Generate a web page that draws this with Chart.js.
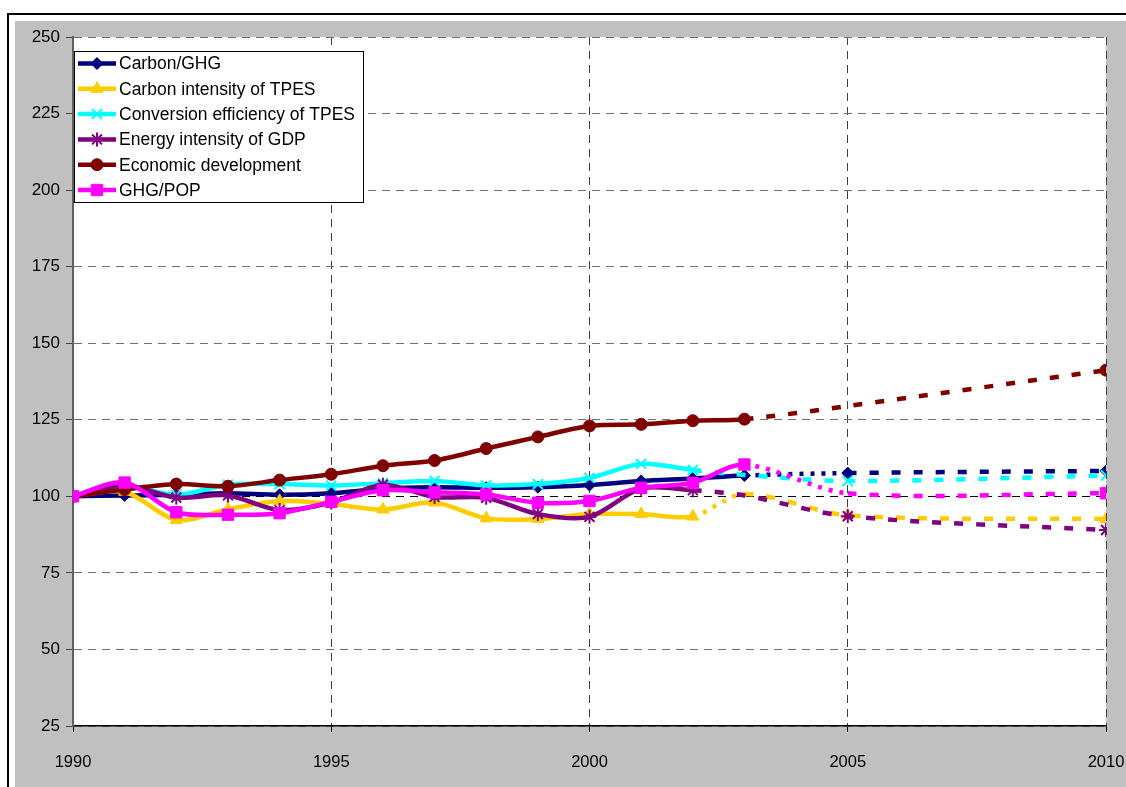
<!DOCTYPE html>
<html>
<head>
<meta charset="utf-8">
<title>GHG decomposition</title>
<script src="https://cdn.jsdelivr.net/npm/chart.js@4.4.0/dist/chart.umd.min.js"></script>
<style>
  html, body { margin: 0; padding: 0; background: #fff; }
  #chart { display: block; }
</style>
</head>
<body>
<canvas id="chart" width="1126" height="787"></canvas>
<script>
// --- Daten ---
const years = [1990, 1991, 1992, 1993, 1994, 1995, 1996, 1997, 1998, 1999, 2000, 2001, 2002, 2003, 2005, 2010];

const carbonGhg       = [100, 100.3, 100.5, 101, 100.5, 101, 102.5, 103, 102.8, 103, 103.7, 105, 105.8, 106.8, 107.6, 108.3];
const carbonIntensity = [100, 101.5, 92.3, 95.8, 98.5, 97.5, 95.7, 98, 92.8, 92.6, 94.2, 94.2, 93.4, 100.8, 93.8, 92.6];
const conversionEff   = [100, 103.5, 100.5, 103.8, 104, 103.5, 104.3, 105, 103.6, 104, 106, 110.6, 108.6, 107, 105, 106.8];
const energyIntensity = [100, 103.5, 99.6, 100.3, 95.5, 98, 103.8, 99.8, 99.5, 94.2, 93.3, 102.5, 102, 100.3, 93.5, 89];
const economicDev     = [100, 102.2, 104, 103.3, 105.3, 107.2, 110, 111.7, 115.6, 119.4, 123, 123.5, 124.7, 125.2, 129.5, 141.2];
const ghgPop          = [100, 104.5, 94.8, 94, 94.5, 98.2, 102, 101.3, 100.6, 97.9, 98.5, 102.8, 104.4, 110.4, 101, 101];

const seriesNames = ['Carbon/GHG', 'Carbon intensity of TPES', 'Conversion efficiency of TPES',
                     'Energy intensity of GDP', 'Economic development', 'GHG/POP'];
const yTicks = [25, 50, 75, 100, 125, 150, 175, 200, 225, 250];
const xTicks = [1990, 1995, 2000, 2005, 2010];

// --- Darstellung pro Serie ---
// solidEnd: letzter Index mit durchgezogener Linie, dotted: Übergangssegment gepunktet
const styles = [
    { color: '#000080', point: 'rectRot',  r: 6, solidEnd: 13, dotted: true,  mark2005: true },
    { color: '#FFCC00', point: 'triangle', r: 7, solidEnd: 12, dotted: true,  mark2005: true },
    { color: '#00FFFF', point: 'crossRot', r: 7, solidEnd: 12, dotted: false, mark2005: true },
    { color: '#800080', point: 'star',     r: 7, solidEnd: 12, dotted: false, mark2005: true },
    { color: '#800000', point: 'circle',   r: 6, solidEnd: 13, dotted: false, mark2005: false },
    { color: '#FF00FF', point: 'rect',     r: 8, solidEnd: 13, dotted: true,  mark2005: false }
];
const allValues = [carbonGhg, carbonIntensity, conversionEff, energyIntensity, economicDev, ghgPop];

function hasMarker(st, i) {
    if (i <= st.solidEnd) return true;
    if (years[i] === 2010) return true;
    if (years[i] === 2005) return st.mark2005;
    return false;
}

const datasets = allValues.map((vals, k) => {
    const st = styles[k];
    const stroked = st.point === 'crossRot' || st.point === 'star';
    return {
        label: seriesNames[k],
        data: vals.map((v, i) => ({ x: years[i], y: v })),
        borderColor: st.color,
        backgroundColor: st.color,
        borderWidth: 4.5,
        tension: 0.3,
        order: 6 - k,
        pointStyle: st.point,
        pointRadius: ctx => hasMarker(st, ctx.dataIndex) ? st.r : 0,
        pointHoverRadius: 0,
        pointBorderWidth: stroked ? 2 : 1,
        pointBorderColor: st.color,
        pointBackgroundColor: st.color,
        segment: {
            borderDash: ctx => {
                const i = ctx.p0DataIndex;
                if (i < st.solidEnd) return undefined;
                if (i === st.solidEnd && st.dotted) return [4, 7];
                return [9, 13];
            }
        }
    };
});

// Hintergrund: Rahmen, graue Fläche, weißer Plotbereich
const frame = {
    id: 'frame',
    beforeDraw(chart) {
        const { ctx, chartArea: a } = chart;
        ctx.save();
        ctx.fillStyle = '#fff';
        ctx.fillRect(0, 0, chart.width, chart.height);
        ctx.fillStyle = '#C0C0C0';
        ctx.fillRect(15, 21, chart.width - 15, chart.height - 21);
        ctx.strokeStyle = '#000';
        ctx.lineWidth = 2;
        ctx.beginPath();
        ctx.moveTo(8, chart.height);
        ctx.lineTo(8, 14);
        ctx.lineTo(chart.width, 14);
        ctx.stroke();
        ctx.fillStyle = '#fff';
        ctx.fillRect(a.left, a.top, a.right - a.left, a.bottom - a.top);
        ctx.restore();
    }
};

// Legende im Plotbereich, im Excel-Stil (Linie mit Marker)
const boxLegend = {
    id: 'boxLegend',
    afterDraw(chart) {
        const ctx = chart.ctx;
        const x0 = 74, y0 = 51, w = 289, h = 151;
        ctx.save();
        ctx.setLineDash([]);
        ctx.fillStyle = '#fff';
        ctx.fillRect(x0, y0, w, h);
        ctx.strokeStyle = '#000';
        ctx.lineWidth = 1;
        ctx.strokeRect(x0 + 0.5, y0 + 0.5, w, h);
        ctx.font = '17.5px "Liberation Sans", Arial, sans-serif';
        ctx.textBaseline = 'middle';
        chart.data.datasets.forEach((ds, k) => {
            const st = styles[k];
            const cy = y0 + 12.5 + k * 25.3;
            ctx.strokeStyle = st.color;
            ctx.lineWidth = 4.5;
            ctx.beginPath();
            ctx.moveTo(78, cy);
            ctx.lineTo(116, cy);
            ctx.stroke();
            ctx.fillStyle = st.color;
            const stroked = st.point === 'crossRot' || st.point === 'star';
            ctx.lineWidth = stroked ? 2 : 1;
            Chart.helpers.drawPoint(ctx, { pointStyle: st.point, radius: st.r, rotation: 0, borderWidth: ctx.lineWidth }, 97, cy);
            ctx.fillStyle = '#000';
            ctx.fillText(ds.label, 119, cy + 1);
        });
        ctx.restore();
    }
};

new Chart(document.getElementById('chart').getContext('2d'), {
    type: 'line',
    data: { datasets },
    plugins: [frame, boxLegend],
    options: {
        responsive: false,
        animation: false,
        events: [],
        layout: { padding: { top: 37, right: 0, left: 0, bottom: 0 } },
        plugins: { legend: { display: false }, tooltip: { enabled: false } },
        scales: {
            x: {
                type: 'linear',
                min: xTicks[0],
                max: xTicks[xTicks.length - 1],
                afterBuildTicks: s => { s.ticks = xTicks.map(v => ({ value: v })); },
                afterFit: s => { s.height = 61; s.paddingLeft = 0; s.paddingRight = 20; },
                ticks: {
                    callback: v => String(v),
                    color: '#000',
                    font: { family: '"Liberation Sans", Arial, sans-serif', size: 16.5 },
                    padding: 21,
                    maxRotation: 0
                },
                grid: {
                    color: '#404040',
                    lineWidth: 1,
                    tickLength: 6,
                    tickColor: '#000'
                },
                border: { display: true, color: '#000', width: 1.5, dash: [8, 6] }
            },
            y: {
                min: yTicks[0],
                max: yTicks[yTicks.length - 1],
                afterBuildTicks: s => { s.ticks = yTicks.map(v => ({ value: v })); },
                afterFit: s => { s.width = 73; },
                ticks: {
                    color: '#000',
                    font: { family: '"Liberation Sans", Arial, sans-serif', size: 17 },
                    padding: 6
                },
                grid: {
                    color: ctx => ctx.tick && ctx.tick.value === 100 ? '#000' : '#707070',
                    lineWidth: 1,
                    tickLength: 7,
                    tickColor: '#404040'
                },
                border: { display: true, color: '#606060', width: 2, dash: [8, 6] }
            }
        }
    }
});
</script>
</body>
</html>
